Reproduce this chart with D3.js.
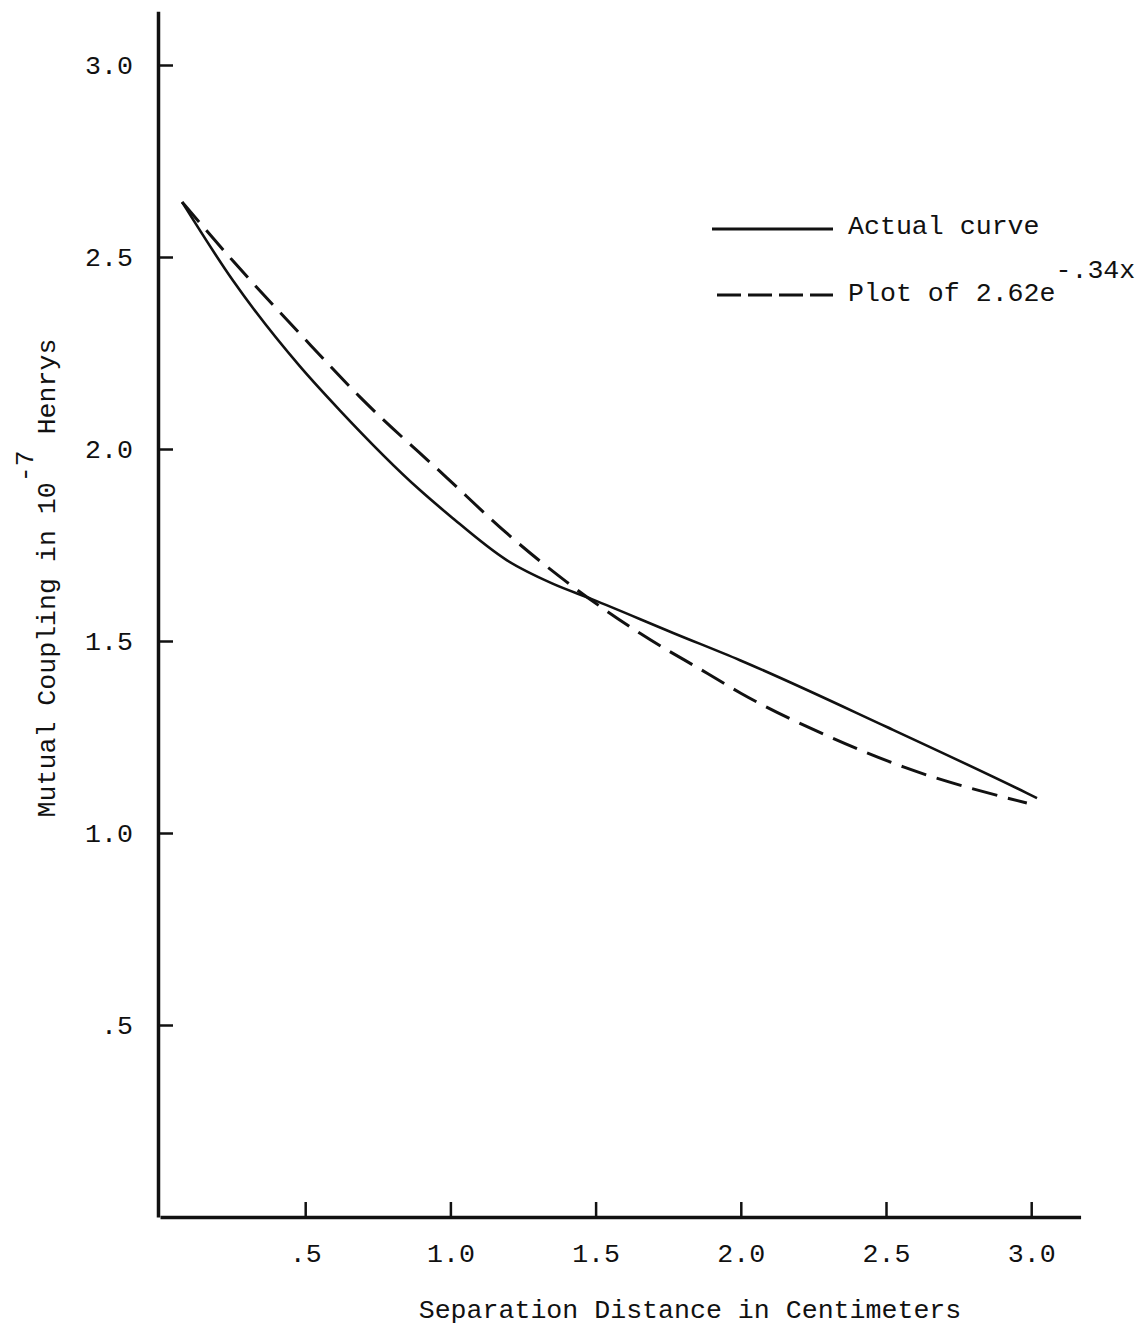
<!DOCTYPE html>
<html>
<head>
<meta charset="utf-8">
<script src="https://cdn.jsdelivr.net/npm/d3@7"></script>
<style>
  html, body { margin: 0; padding: 0; background: #fff; }
  svg { display: block; }
  text { font-family: "Liberation Mono", "Courier New", "DejaVu Sans Mono", monospace; fill: #111; }
</style>
</head>
<body>
<script>
// ---- data ----
const actualX = [0.076, 0.25, 0.482, 0.62, 0.895, 1.0, 1.195, 1.35, 1.487, 1.767, 1.997, 2.503, 2.985, 3.02];
const actualY = [2.643, 2.44, 2.215, 2.10, 1.893, 1.825, 1.71, 1.65, 1.609, 1.521, 1.45, 1.276, 1.104, 1.091];

const fitX = [0.076, 0.251, 0.482, 0.689, 0.988, 1.195, 1.40, 1.653, 1.884, 2.0, 2.307, 2.56, 2.985];
const fitY = [2.643, 2.49, 2.30, 2.135, 1.925, 1.78, 1.654, 1.52, 1.416, 1.364, 1.25, 1.172, 1.078];

const xTickValues = [0.5, 1.0, 1.5, 2.0, 2.5, 3.0];
const xTickLabels = [".5", "1.0", "1.5", "2.0", "2.5", "3.0"];
const yTickValues = [0.5, 1.0, 1.5, 2.0, 2.5, 3.0];
const yTickLabels = [".5", "1.0", "1.5", "2.0", "2.5", "3.0"];

const legendLabels = ["Actual curve", "Plot of 2.62e"];
const legendSup = "-.34x";
const xTitle = "Separation Distance in Centimeters";
const yTitleMain = "Mutual Coupling in 10";
const yTitleSup = "-7";
const yTitleEnd = " Henrys";

// ---- layout ----
const W = 1143, H = 1325;
const svg = d3.select("body").append("svg").attr("width", W).attr("height", H);

const x = d3.scaleLinear().domain([0, 3.17]).range([160, 160 + 3.17 * 290.4]);
const y = d3.scaleLinear().domain([0, 3.14]).range([1217, 1217 - 3.14 * 384]);

const FS = 26.6;

// y axis
const yAxis = d3.axisLeft(y)
  .tickValues(yTickValues)
  .tickFormat((d, i) => yTickLabels[i])
  .tickSizeInner(-15)
  .tickSizeOuter(0)
  .tickPadding(25);
const gy = svg.append("g").attr("transform", "translate(158,0)").call(yAxis);
gy.select(".domain").attr("stroke", "#111").attr("stroke-width", 3.5);
gy.selectAll(".tick line").attr("stroke", "#111").attr("stroke-width", 2.5);
gy.selectAll(".tick text").attr("font-size", FS).attr("font-family", null).attr("fill", "#111");

// x axis
const xAxis = d3.axisBottom(x)
  .tickValues(xTickValues)
  .tickFormat((d, i) => xTickLabels[i])
  .tickSizeInner(-15)
  .tickSizeOuter(0)
  .tickPadding(20);
const gx = svg.append("g").attr("transform", "translate(0,1217)").call(xAxis);
gx.select(".domain").attr("stroke", "#111").attr("stroke-width", 3.5);
gx.selectAll(".tick line").attr("stroke", "#111").attr("stroke-width", 2.5);
gx.selectAll(".tick text").attr("font-size", FS).attr("font-family", null).attr("fill", "#111")
  .attr("y", 45).attr("dy", "0");

// curves
const actual = actualX.map((v, i) => [v, actualY[i]]);
const fit = fitX.map((v, i) => [v, fitY[i]]);
const line = d3.line().x(d => x(d[0])).y(d => y(d[1])).curve(d3.curveMonotoneX);

svg.append("path").datum(actual).attr("d", line)
  .attr("fill", "none").attr("stroke", "#111").attr("stroke-width", 2.6);
svg.append("path").datum(fit).attr("d", line)
  .attr("fill", "none").attr("stroke", "#111").attr("stroke-width", 3)
  .attr("stroke-dasharray", "26,11");

// legend
const lg = svg.append("g");
lg.append("line").attr("x1", 712).attr("x2", 833).attr("y1", 229).attr("y2", 229)
  .attr("stroke", "#111").attr("stroke-width", 3);
lg.append("text").attr("x", 848).attr("y", 234).attr("font-size", FS).text(legendLabels[0]);
lg.append("line").attr("x1", 717).attr("x2", 833).attr("y1", 295).attr("y2", 295)
  .attr("stroke", "#111").attr("stroke-width", 3).attr("stroke-dasharray", "24,7");
const t2 = lg.append("text").attr("x", 848).attr("y", 301).attr("font-size", FS);
t2.append("tspan").text(legendLabels[1]);
t2.append("tspan").attr("dy", -23).text(legendSup);

// x title
svg.append("text").attr("x", 690).attr("y", 1318).attr("text-anchor", "middle")
  .attr("font-size", FS).text(xTitle);

// y title
const yt = svg.append("text")
  .attr("transform", "translate(55,578) rotate(-90)")
  .attr("text-anchor", "middle").attr("font-size", FS);
yt.append("tspan").text(yTitleMain);
yt.append("tspan").attr("dy", -22).text(yTitleSup);
yt.append("tspan").attr("dy", 22).text(yTitleEnd);
</script>
</body>
</html>
